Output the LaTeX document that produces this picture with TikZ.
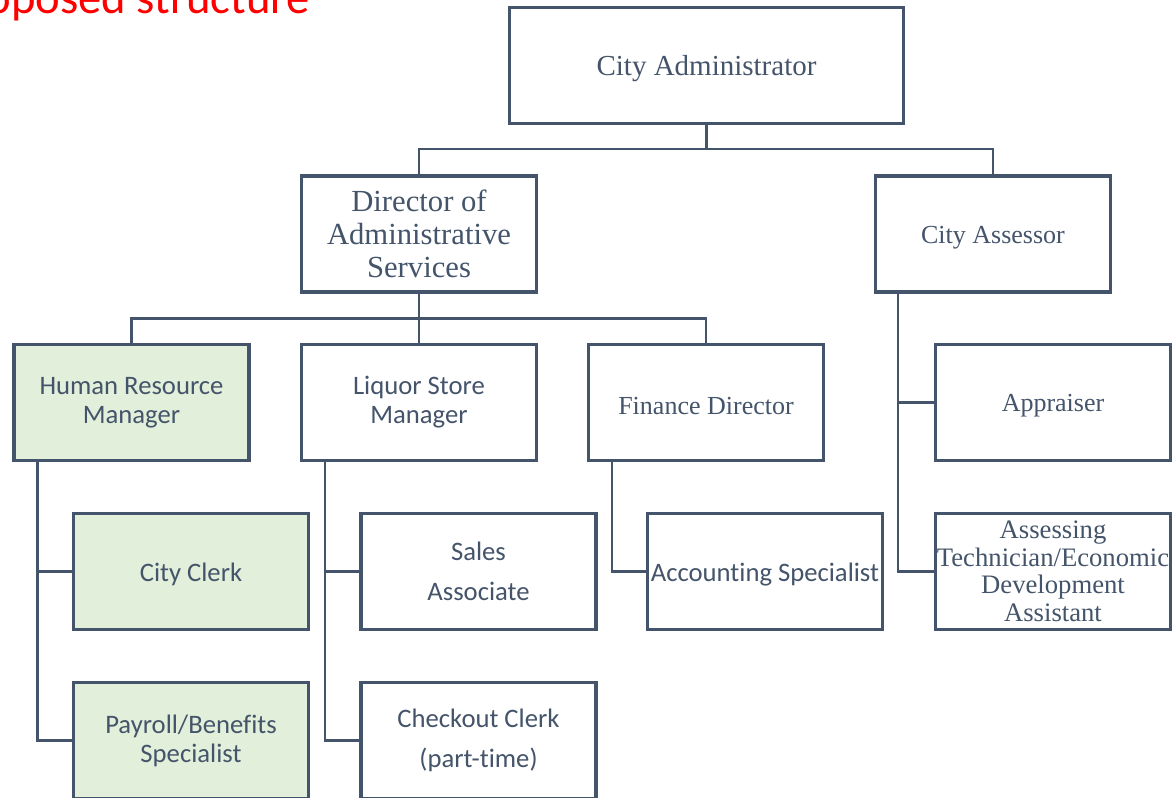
\documentclass[tikz,border=0pt]{standalone}
\usepackage{fontspec}
\newfontfamily\serifr{Liberation Serif}
\newfontfamily\sansc[Ligatures={NoCommon,NoContextual}]{Carlito}
\definecolor{slate}{HTML}{44546A}
\definecolor{lightgreen}{HTML}{E2EFDA}
\newcommand{\lowr}[1]{\raisebox{-2.5pt}[\height][\depth]{#1}}
\tikzset{
  box/.style={draw=slate, line width=2.6pt, rectangle, minimum width=176.25pt, minimum height=87pt, inner sep=0pt, outer sep=0pt, align=center, text=slate, fill=white},
  green/.style={fill=lightgreen},
  serifA/.style={font=\serifr\fontsize{19.5}{20.6}\selectfont},
  sansA/.style={font=\sansc\fontsize{20}{21.75}\selectfont},
  sansB/.style={font=\sansc\fontsize{20}{30}\selectfont},
  conn/.style={draw=slate, line width=1.6pt}
}
\begin{document}
\begin{tikzpicture}[x=0.75pt,y=-0.75pt]
\useasboundingbox (0,0) rectangle (1172,798);
\clip (0,0) rectangle (1172,798);
\node[anchor=base east, text=red, font=\sansc\fontsize{35}{40}\selectfont, inner sep=0pt] (title) at (310,14) {Proposed structure};
% boxes
\node[box, minimum width=295.5pt, font=\serifr\fontsize{21.75}{24}\selectfont] (admin) at (706.5,65.5) {\lowr{City Administrator}};
\node[box, font=\serifr\fontsize{23}{24.75}\selectfont] (dir) at (419,234) {Director of\\Administrative\\Services};
\node[box, serifA] (assr) at (993,234) {\lowr{City Assessor}};
\node[box, green, sansA] (hr) at (131.5,402.5) {Human Resource\\Manager};
\node[box, sansA] (liq) at (419,402.5) {Liquor Store\\Manager};
\node[box, serifA] (fin) at (706,402.5) {\lowr{Finance Director}};
\node[box, serifA] (appr) at (1053,402.5) {\lowr{Appraiser}};
\node[box, green, sansA] (clerk) at (191,571.5) {\lowr{City Clerk}};
\node[box, sansB] (sales) at (478.5,571.5) {Sales\\Associate};
\node[box, sansA] (acct) at (765,571.5) {\lowr{Accounting Specialist}};
\node[box, font=\serifr\fontsize{20}{20.6}\selectfont] (asst) at (1053,571.5) {Assessing\\Technician/Economic\\Development\\Assistant};
\node[box, green, sansA] (payroll) at (191,740.5) {Payroll/Benefits\\Specialist};
\node[box, sansB] (checkout) at (478.5,740.5) {Checkout Clerk\\(part-time)};
% connectors
\draw[conn] (admin.south) -- ++(0,25.5) -| (dir.north);
\draw[conn] (admin.south) -- ++(0,25.5) -| (assr.north);
\draw[conn] (dir.south) -- ++(0,26.5) -| (hr.north);
\draw[conn] (dir.south) -- ++(0,26.5) -| (liq.north);
\draw[conn] (dir.south) -- ++(0,26.5) -| (fin.north);
\draw[conn] ([xshift=17.6pt]hr.south west) |- (clerk.west);
\draw[conn] ([xshift=17.6pt]hr.south west) |- (payroll.west);
\draw[conn] ([xshift=17.6pt]liq.south west) |- (sales.west);
\draw[conn] ([xshift=17.6pt]liq.south west) |- (checkout.west);
\draw[conn] ([xshift=17.6pt]fin.south west) |- (acct.west);
\draw[conn] ([xshift=17pt]assr.south west) |- (appr.west);
\draw[conn] ([xshift=17pt]assr.south west) |- (asst.west);
\end{tikzpicture}
\end{document}
